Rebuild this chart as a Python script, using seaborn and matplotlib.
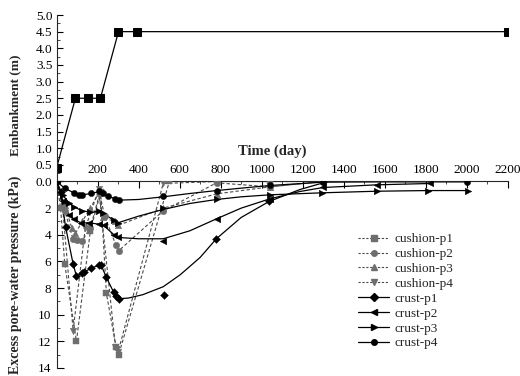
import matplotlib
matplotlib.use("Agg")
import numpy as np
import pandas as pd
import seaborn as sns
import matplotlib.pyplot as plt
from matplotlib.lines import Line2D
from matplotlib.ticker import FixedLocator, MultipleLocator

# ---------------- data ----------------
emb_t = [0, 92, 151, 214, 302, 394, 2200]
emb_h = [0.4, 2.5, 2.5, 2.5, 4.5, 4.5, 4.5]

# cushion series (dashed, gray markers)
cp1_t = [0, 20, 40, 97, 165, 215, 243, 290, 303, 550, 780, 1040, 1300]
cp1_p = [0, 2.0, 6.2, 12.0, 3.7, 0.8, 8.4, 12.4, 13.0, 0.0, 0.0, 0.0, 0.0]
cp2_t = [0, 40, 80, 100, 122, 165, 210, 235, 290, 303, 520, 780, 1040, 1300]
cp2_p = [0, 2.2, 4.3, 4.4, 4.5, 3.5, 0.9, 2.6, 4.8, 5.2, 2.2, 0.1, 0.4, 0.0]
cp3_t = [0, 40, 75, 92, 125, 165, 205, 225, 285, 300, 520, 780, 1040, 1300]
cp3_p = [0, 1.8, 3.5, 3.9, 3.0, 2.0, 0.9, 2.7, 3.0, 3.3, 2.0, 0.93, 0.4, 0.0]
cp4_t = [0, 30, 81, 140, 206, 287, 300, 520, 780, 1040, 1300]
cp4_p = [0, 2.0, 11.2, 3.5, 0.6, 12.4, 12.8, 0.15, 0.0, 0.0, 0.0]

# crust series: measured points
k1_t = [0, 20, 44, 81, 97, 122, 135, 169, 206, 218, 243, 278, 290, 303, 523, 779, 1036, 1300]
k1_p = [0, 0.8, 3.4, 6.2, 7.1, 6.9, 6.8, 6.5, 6.3, 6.3, 7.2, 8.3, 8.6, 8.8, 8.5, 4.3, 1.5, 0.05]
k2_t = [0, 30, 60, 84, 117, 157, 206, 230, 280, 300, 520, 780, 1040, 1300, 1560, 1820]
k2_p = [0, 1.5, 2.5, 2.8, 3.1, 3.1, 3.2, 3.3, 4.0, 4.2, 4.5, 2.8, 1.3, 0.4, 0.23, 0.15]
k3_t = [0, 30, 60, 84, 125, 165, 206, 225, 280, 300, 520, 780, 1040, 1293, 1560, 1811, 2005]
k3_p = [0, 1.0, 1.6, 1.9, 2.2, 2.3, 2.25, 2.4, 2.9, 3.1, 2.0, 1.35, 1.0, 0.85, 0.73, 0.68, 0.68]
k4_t = [0, 40, 84, 110, 125, 170, 209, 225, 250, 287, 303, 520, 780, 1040, 1300, 2000]
k4_p = [0, 0.5, 0.85, 1.0, 1.0, 0.9, 0.75, 0.9, 1.1, 1.3, 1.4, 1.1, 0.68, 0.28, 0.05, 0.05]

# crust series: fitted curves (vertices)
k1c_t = [0, 20, 44, 81, 97, 122, 135, 169, 206, 218, 243, 278, 290, 303, 350, 420, 520, 603, 700, 779, 900, 1036, 1187, 1300]
k1c_p = [0, 0.8, 3.4, 6.2, 7.1, 6.9, 6.8, 6.5, 6.3, 6.3, 7.2, 8.3, 8.6, 8.8, 8.75, 8.5, 7.9, 7.0, 5.7, 4.3, 2.7, 1.5, 0.6, 0.1]
k2c_t = [0, 30, 60, 84, 117, 157, 206, 230, 280, 300, 400, 520, 650, 780, 900, 1040, 1187, 1300, 1560, 1820]
k2c_p = [0, 1.5, 2.5, 2.8, 3.1, 3.1, 3.2, 3.3, 4.0, 4.2, 4.3, 4.3, 3.7, 2.8, 2.0, 1.3, 0.75, 0.45, 0.25, 0.15]
k3c_t = [0, 30, 60, 84, 125, 165, 206, 225, 280, 300, 400, 520, 650, 780, 900, 1040, 1293, 1560, 1811, 2005]
k3c_p = [0, 1.0, 1.6, 1.9, 2.2, 2.3, 2.25, 2.4, 2.9, 3.1, 2.6, 2.1, 1.65, 1.35, 1.15, 1.0, 0.85, 0.73, 0.68, 0.68]
k4c_t = [0, 40, 84, 110, 125, 170, 209, 225, 250, 287, 303, 400, 520, 650, 780, 900, 1040, 1300, 1560, 2000]
k4c_p = [0, 0.5, 0.85, 1.0, 1.0, 0.9, 0.75, 0.9, 1.1, 1.3, 1.4, 1.35, 1.15, 0.9, 0.68, 0.5, 0.3, 0.05, 0.03, 0.03]

labels = ["cushion-p1", "cushion-p2", "cushion-p3", "cushion-p4",
          "crust-p1", "crust-p2", "crust-p3", "crust-p4"]

# ---------------- figure ----------------
sns.set_theme(style="ticks")
plt.rcParams["font.family"] = ["Liberation Serif", "DejaVu Serif"]
plt.rcParams["axes.linewidth"] = 0.8

fig = plt.figure(figsize=(5.2, 3.76), dpi=100)
L, W = 0.1087, 0.868
ax_top = fig.add_axes([L, 0.5173, W, 0.4428])
ax = fig.add_axes([L, 0.0213, W, 0.496])

# --- top panel: embankment ---
sns.lineplot(x=emb_t, y=emb_h, ax=ax_top, color="black", linewidth=0.9,
             marker="s", markersize=5.5, markeredgecolor="black",
             sort=False, estimator=None, legend=False)
ax_top.set_xlim(0, 2200)
ax_top.set_ylim(0, 5)
for s in ["top", "right", "bottom"]:
    ax_top.spines[s].set_visible(False)
ax_top.set_xticks([])
ax_top.set_yticks(np.arange(0, 5.01, 0.5))
ax_top.yaxis.set_minor_locator(MultipleLocator(0.25))
ax_top.yaxis.set_major_formatter("{x:.1f}")
ax_top.tick_params(axis="y", which="major", direction="in", length=4, width=0.8,
                   labelsize=9.5, pad=3, colors="black")
ax_top.tick_params(axis="y", which="minor", direction="in", length=2, width=0.6)
ax_top.set_xlabel("")
ax_top.set_ylabel("Embankment (m)", fontsize=9.5, fontweight="bold")
ax_top.yaxis.set_label_coords(-0.079, 0.46)
ax_top.patch.set_alpha(0)

# --- bottom panel: pore pressure ---
gray_m = "#6e6e6e"
gray_l = "#4a4a4a"
cush = [(cp1_t, cp1_p, "s"), (cp2_t, cp2_p, "o"), (cp3_t, cp3_p, "^"), (cp4_t, cp4_p, "v")]
for t, p, m in cush:
    sns.lineplot(x=t, y=p, ax=ax, color=gray_l, linewidth=0.8, sort=False,
                 estimator=None, legend=False, dashes=False)
    ax.lines[-1].set_dashes([3, 2])
    sns.scatterplot(x=t, y=p, ax=ax, color=gray_m, marker=m, s=22,
                    edgecolor=gray_m, linewidth=0.3, legend=False, zorder=3)

crust = [(k1c_t, k1c_p, k1_t, k1_p, "D", 16), (k2c_t, k2c_p, k2_t, k2_p, "<", 22),
         (k3c_t, k3c_p, k3_t, k3_p, ">", 22), (k4c_t, k4c_p, k4_t, k4_p, "o", 20)]
for ct, cpv, t, p, m, sz in crust:
    sns.lineplot(x=ct, y=cpv, ax=ax, color="black", linewidth=0.9, sort=False,
                 estimator=None, legend=False)
    sns.scatterplot(x=t, y=p, ax=ax, color="black", marker=m, s=sz,
                    edgecolor="black", linewidth=0.3, legend=False, zorder=4)

ax.set_xlim(0, 2200)
ax.set_ylim(14, 0)
ax.spines["right"].set_visible(False)
ax.spines["bottom"].set_visible(False)
ax.xaxis.tick_top()
ax.xaxis.set_label_position("top")
xt = list(range(0, 2201, 200))
ax.xaxis.set_major_locator(FixedLocator(xt))
ax.set_xticklabels(["" if v == 0 else str(v) for v in xt])
ax.xaxis.set_minor_locator(MultipleLocator(100))
yt = list(range(0, 15, 2))
ax.yaxis.set_major_locator(FixedLocator(yt))
ax.set_yticklabels(["" if v == 0 else str(v) for v in yt])
ax.yaxis.set_minor_locator(MultipleLocator(1))
ax.tick_params(axis="both", which="major", direction="in", length=5, width=0.8,
               labelsize=9.5, colors="black")
ax.tick_params(axis="x", which="major", pad=4)
ax.tick_params(axis="y", which="major", pad=4)
ax.tick_params(axis="both", which="minor", direction="in", length=2.5, width=0.6)
ax.set_xlabel("Time (day)", fontsize=10.5, fontweight="bold")
ax.xaxis.set_label_coords(0.477, 1.145)
ax.set_ylabel("Excess pore-water pressure (kPa)", fontsize=10, fontweight="bold")
ax.yaxis.set_label_coords(-0.077, 0.5)
ax.patch.set_alpha(0)

# legend
handles = []
for (t, p, m) in cush:
    handles.append(Line2D([], [], color=gray_l, linewidth=0.8, dashes=[2, 1.5],
                          marker=m, markersize=4, markerfacecolor=gray_m,
                          markeredgecolor=gray_m))
for (ct, cpv, t, p, m, sz) in crust:
    handles.append(Line2D([], [], color="black", linewidth=0.9, marker=m,
                          markersize=4, markerfacecolor="black",
                          markeredgecolor="black"))
fig.legend(handles, labels, loc="upper left", bbox_to_anchor=(0.688, 0.380),
           bbox_transform=fig.transFigure, frameon=False, fontsize=9.5,
           handlelength=2.4, handletextpad=0.4, labelspacing=0.2,
           borderpad=0, borderaxespad=0)

fig.savefig("out.png", dpi=100)
